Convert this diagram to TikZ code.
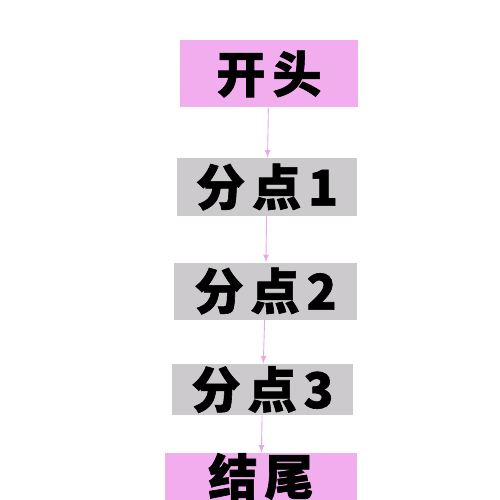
\documentclass[tikz,border=0pt]{standalone}
\usepackage{fontspec}
\newfontfamily\cjk[LetterSpace=14,BoldFeatures={FakeBold=1.2}]{Noto Sans CJK SC}
\usetikzlibrary{positioning}
\definecolor{boxpink}{HTML}{F2ADEE}
\definecolor{boxgray}{HTML}{CCCACC}
\definecolor{linkpink}{HTML}{EBA6E6}
\tikzset{
  pinkbox/.style={fill=boxpink,inner sep=0pt,font=\cjk\bfseries\fontsize{28}{28}\selectfont},
  graybox/.style={fill=boxgray,inner sep=0pt,font=\cjk\bfseries\fontsize{28}{28}\selectfont},
  link/.style={->,>=latex,linkpink,line width=0.5pt}
}
\begin{document}
\begin{tikzpicture}
  \useasboundingbox (0,0) rectangle (10,-10);
  \node (0) [pinkbox,minimum width=3.56cm,minimum height=1.34cm] at (5.38,-1.48) {开头};
  \node (1) [graybox,minimum width=3.6cm,minimum height=1.16cm,below of=0,yshift=-1.26cm,xshift=-0.04cm] {分点1};
  \node (2) [graybox,minimum width=3.66cm,minimum height=1.14cm,below of=1,yshift=-1.08cm,xshift=-0.03cm] {分点2};
  \node (3) [graybox,minimum width=3.62cm,minimum height=1.02cm,below of=2,yshift=-0.97cm,xshift=-0.06cm] {分点3};
  \node (4) [pinkbox,minimum width=3.84cm,minimum height=0.94cm,below of=3,yshift=-0.74cm,xshift=-0.03cm] {结尾};
  \draw[link] (0) -- (1);
  \draw[link] (1) -- (2);
  \draw[link] (2) -- (3);
  \draw[link] (3) -- (4);
\end{tikzpicture}
\end{document}
